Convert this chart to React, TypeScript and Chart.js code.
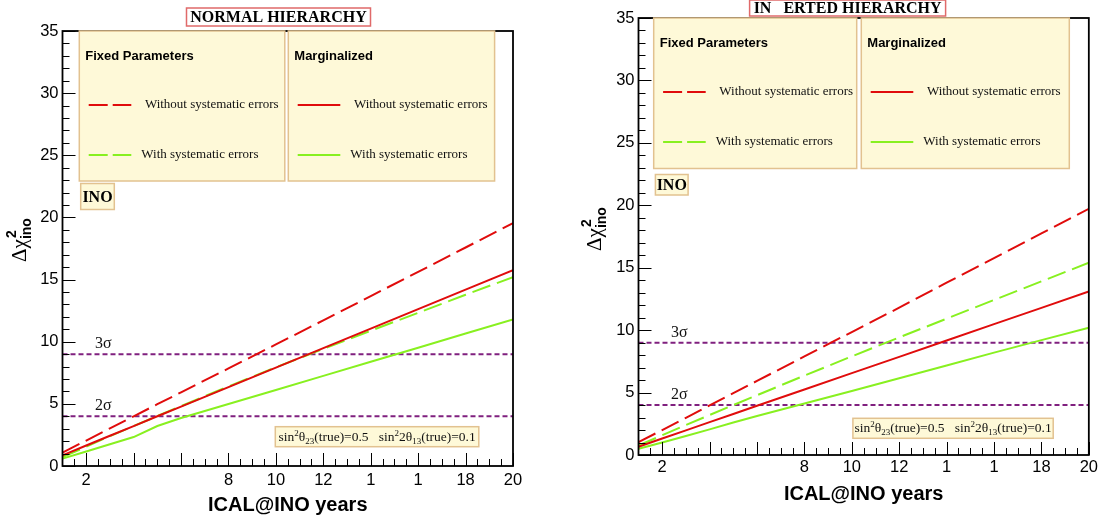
import React, { useEffect, useRef } from 'react';
import { Chart, registerables } from 'chart.js';

Chart.register(...registerables);

// ---------------- data ----------------
const YEARS = [1, 2, 3, 4, 5, 6, 8, 10, 12, 14, 16, 18, 20];

// Normal hierarchy
const NH_FIXED_NOSYS = [1.08, 2.05, 3.03, 4.0, 4.97, 5.93, 7.85, 9.78, 11.72, 13.67, 15.62, 17.58, 19.55];
const NH_FIXED_SYS = [0.72, 1.55, 2.4, 3.22, 4.02, 4.82, 6.4, 7.95, 9.42, 10.88, 12.33, 13.78, 15.2];
const NH_MARG_NOSYS = [0.86, 1.65, 2.43, 3.21, 4.0, 4.78, 6.35, 7.92, 9.48, 11.05, 12.62, 14.19, 15.76];
const NH_MARG_SYS = [0.59, 1.17, 1.75, 2.33, 3.22, 3.86, 4.99, 6.12, 7.25, 8.39, 9.52, 10.66, 11.79];

// Inverted hierarchy
const IH_FIXED_NOSYS = [1.03, 2.0, 2.98, 3.98, 4.95, 5.93, 7.9, 9.85, 11.8, 13.8, 15.77, 17.75, 19.72];
const IH_FIXED_SYS = [0.76, 1.58, 2.4, 3.2, 4.0, 4.79, 6.36, 7.9, 9.42, 10.92, 12.42, 13.91, 15.4];
const IH_MARG_NOSYS = [0.66, 1.32, 1.97, 2.63, 3.28, 3.94, 5.25, 6.56, 7.86, 9.17, 10.48, 11.78, 13.09];
const IH_MARG_SYS = [0.5, 1.0, 1.52, 2.05, 2.6, 3.12, 4.12, 5.13, 6.15, 7.17, 8.2, 9.2, 10.2];

const X_MIN = 1;
const X_MAX = 20;
const X_TICKS = [2, 4, 6, 8, 10, 12, 14, 16, 18, 20];
const X_TICK_LABELS = ['2', '', '', '8', '10', '12', '1', '1', '18', '20'];
const Y_MIN = 0;
const Y_MAX = 35;
const Y_STEP = 5;

const SIGMA_LEVELS = [9, 4];
const SIGMA_LABELS = ['3σ', '2σ'];

const TITLES = ['NORMAL HIERARCHY', 'IN   ERTED HIERARCHY'];
const X_TITLE = 'ICAL@INO years';
const BADGE = 'INO';
const LEGEND_HEADERS = ['Fixed Parameters', 'Marginalized'];
const LEGEND_ROWS = ['Without systematic errors', 'With systematic errors'];
const SERIES_NAMES = ['Marginalized, without systematic errors', 'Fixed parameters, without systematic errors', 'Fixed parameters, with systematic errors', 'Marginalized, with systematic errors'];

// ---------------- styles ----------------
const RED = '#e00c0c';
const GREEN = '#88f020';
const PURPLE = '#80207f';
const BOX_FILL = '#fef9d8';
const BOX_EDGE = '#e2c290';
const SANS = '"Liberation Sans", Arial, Helvetica, sans-serif';
const SERIF = '"Liberation Serif", "Times New Roman", serif';
const LONG_DASH = [19, 7];
const LEGEND_DASH = [19, 5];

const SERIES_STYLE = [
  { color: RED, dash: [] as number[] },
  { color: RED, dash: LONG_DASH },
  { color: GREEN, dash: LONG_DASH },
  { color: GREEN, dash: [] as number[] },
];

type Rect = [number, number, number, number];
interface Panel {
  key: string;
  title: string;
  series: number[][];
  width: number;
  offset: number;
  padding: { left: number; right: number; top: number; bottom: number };
  yWidth: number;
  xHeight: number;
  xLabelPad: number;
  titleBox: Rect;
  box1: Rect;
  box2: Rect;
  inoBox: Rect;
  paramBox: Rect;
  yTitle: [number, number];
}

const PANELS: Panel[] = [
  {
    key: 'nh',
    title: TITLES[0],
    series: [NH_MARG_NOSYS, NH_FIXED_NOSYS, NH_FIXED_SYS, NH_MARG_SYS],
    width: 550,
    offset: 0,
    padding: { left: 0, right: 37, top: 31, bottom: 0 },
    yWidth: 62.5,
    xHeight: 57,
    xLabelPad: 5,
    titleBox: [186.5, 8, 184, 18],
    box1: [79.3, 31, 205.5, 150],
    box2: [288.3, 31, 206.3, 150],
    inoBox: [80.7, 183.5, 33.6, 26],
    paramBox: [275.3, 426.7, 203.5, 20],
    yTitle: [26, 240],
  },
  {
    key: 'ih',
    title: TITLES[1],
    series: [IH_MARG_NOSYS, IH_FIXED_NOSYS, IH_FIXED_SYS, IH_MARG_SYS],
    width: 551,
    offset: 550,
    padding: { left: 0, right: 11, top: 18, bottom: 0 },
    yWidth: 88.5,
    xHeight: 68,
    xLabelPad: 3,
    titleBox: [199.6, 0, 196, 16],
    box1: [103.7, 18, 203, 150.5],
    box2: [311.3, 18, 208, 150.5],
    inoBox: [105.4, 174.5, 32.7, 20.5],
    paramBox: [302.9, 418.3, 200.3, 20],
    yTitle: [51, 229],
  },
];

type Seg = { t: string; font: string; dy: number };

function drawRich(ctx: CanvasRenderingContext2D, x: number, y: number, segs: Seg[]) {
  let cx = x;
  for (const s of segs) {
    ctx.font = s.font;
    ctx.fillText(s.t, cx, y + s.dy);
    cx += ctx.measureText(s.t).width;
  }
  return cx;
}

function richWidth(ctx: CanvasRenderingContext2D, segs: Seg[]) {
  let w = 0;
  for (const s of segs) {
    ctx.font = s.font;
    w += ctx.measureText(s.t).width;
  }
  return w;
}

function drawBox(ctx: CanvasRenderingContext2D, r: Rect, fill: string, edge: string) {
  ctx.fillStyle = fill;
  ctx.fillRect(r[0], r[1], r[2], r[3]);
  ctx.strokeStyle = edge;
  ctx.lineWidth = 1.5;
  ctx.setLineDash([]);
  ctx.strokeRect(r[0], r[1], r[2], r[3]);
}

function drawLegendBox(ctx: CanvasRenderingContext2D, r: Rect, header: string, styles: { color: string; dash: number[] }[]) {
  drawBox(ctx, r, BOX_FILL, BOX_EDGE);
  ctx.fillStyle = '#000';
  ctx.textBaseline = 'middle';
  ctx.textAlign = 'left';
  ctx.font = `bold 13px ${SANS}`;
  ctx.fillText(header, r[0] + 6, r[1] + 25);
  const rowsY = [r[1] + 74, r[1] + 124];
  const textX = [r[0] + 65.6, r[0] + 62];
  LEGEND_ROWS.forEach((label, i) => {
    const st = styles[i];
    ctx.strokeStyle = st.color;
    ctx.lineWidth = 2;
    ctx.setLineDash(st.dash.length ? LEGEND_DASH : []);
    ctx.beginPath();
    ctx.moveTo(r[0] + 9.4, rowsY[i]);
    ctx.lineTo(r[0] + 52, rowsY[i]);
    ctx.stroke();
    ctx.setLineDash([]);
    ctx.fillStyle = '#111';
    ctx.font = `13px ${SERIF}`;
    ctx.fillText(label, textX[i], rowsY[i]);
  });
}

function decorPlugin(p: Panel) {
  return {
    id: 'decor_' + p.key,
    afterDraw(chart: any) {
      const ctx: CanvasRenderingContext2D = chart.ctx;
      const { left, right, top, bottom } = chart.chartArea;
      const xs = chart.scales.x;
      const ys = chart.scales.y;
      ctx.save();
      ctx.setLineDash([]);

      // ticks (inside)
      ctx.strokeStyle = '#000';
      ctx.lineWidth = 1;
      for (let v = Y_MIN; v <= Y_MAX; v += 1) {
        const py = Math.round(ys.getPixelForValue(v)) + 0.5;
        const len = v % Y_STEP === 0 ? 13 : 7;
        ctx.beginPath();
        ctx.moveTo(left, py);
        ctx.lineTo(left + len, py);
        ctx.stroke();
      }
      for (let v = X_MIN + 0.5; v <= X_MAX; v += 0.5) {
        const px = Math.round(xs.getPixelForValue(v)) + 0.5;
        const len = v % 2 === 0 ? 13 : 7;
        ctx.beginPath();
        ctx.moveTo(px, bottom);
        ctx.lineTo(px, bottom - len);
        ctx.stroke();
      }

      // frame
      ctx.lineWidth = 1.8;
      ctx.strokeRect(left, top, right - left, bottom - top);

      // sigma labels
      ctx.fillStyle = '#111';
      ctx.font = `16px ${SERIF}`;
      ctx.textAlign = 'left';
      ctx.textBaseline = 'middle';
      SIGMA_LEVELS.forEach((lv, i) => {
        ctx.fillText(SIGMA_LABELS[i], left + 32.5, ys.getPixelForValue(lv) - 10);
      });

      // legend boxes
      drawLegendBox(ctx, p.box1, LEGEND_HEADERS[0], [SERIES_STYLE[1], SERIES_STYLE[2]]);
      drawLegendBox(ctx, p.box2, LEGEND_HEADERS[1], [SERIES_STYLE[0], SERIES_STYLE[3]]);

      // INO badge
      drawBox(ctx, p.inoBox, BOX_FILL, BOX_EDGE);
      ctx.fillStyle = '#000';
      ctx.font = `bold 16px ${SERIF}`;
      ctx.textAlign = 'center';
      ctx.textBaseline = 'middle';
      ctx.fillText(BADGE, p.inoBox[0] + p.inoBox[2] / 2, p.inoBox[1] + p.inoBox[3] / 2 + 1);

      // parameter box
      drawBox(ctx, p.paramBox, BOX_FILL, BOX_EDGE);
      ctx.fillStyle = '#111';
      ctx.textAlign = 'left';
      ctx.textBaseline = 'alphabetic';
      const big = `13.5px ${SERIF}`;
      const small = `9px ${SERIF}`;
      const segs: Seg[] = [
        { t: 'sin', font: big, dy: 0 },
        { t: '2', font: small, dy: -5 },
        { t: 'θ', font: big, dy: 0 },
        { t: '23', font: small, dy: 3 },
        { t: '(true)=0.5   sin', font: big, dy: 0 },
        { t: '2', font: small, dy: -5 },
        { t: '2θ', font: big, dy: 0 },
        { t: '13', font: small, dy: 3 },
        { t: '(true)=0.1', font: big, dy: 0 },
      ];
      const pw = richWidth(ctx, segs);
      drawRich(ctx, p.paramBox[0] + (p.paramBox[2] - pw) / 2, p.paramBox[1] + p.paramBox[3] / 2 + 4, segs);

      // title box
      drawBox(ctx, p.titleBox, '#ffffff', '#e06a6a');
      ctx.fillStyle = '#000';
      ctx.font = `bold 16px ${SERIF}`;
      ctx.textAlign = 'center';
      ctx.textBaseline = 'middle';
      ctx.fillText(p.title, p.titleBox[0] + p.titleBox[2] / 2, p.titleBox[1] + p.titleBox[3] / 2 + 1);

      // x title
      ctx.font = `bold 20px ${SANS}`;
      ctx.fillText(X_TITLE, (left + right) / 2, bottom + 39);

      // y title (rotated)
      ctx.save();
      ctx.translate(p.yTitle[0], p.yTitle[1]);
      ctx.rotate(-Math.PI / 2);
      ctx.textAlign = 'left';
      ctx.textBaseline = 'alphabetic';
      const mainFont = `21px ${SERIF}`;
      const subFont = `bold 14px ${SANS}`;
      ctx.font = mainFont;
      const wMain = ctx.measureText('Δχ').width;
      ctx.font = subFont;
      const wSub = ctx.measureText('ino').width;
      const x0 = -(wMain + wSub) / 2;
      ctx.font = mainFont;
      ctx.fillText('Δχ', x0, 0);
      ctx.font = subFont;
      ctx.fillText('2', x0 + wMain + 1, -10);
      ctx.fillText('ino', x0 + wMain, 5);
      ctx.restore();

      ctx.restore();
    },
  };
}

function makeChart(canvas: HTMLCanvasElement, p: Panel) {
  const datasets: any[] = p.series.map((arr, i) => ({
    label: SERIES_NAMES[i],
    data: YEARS.map((x, j) => ({ x, y: arr[j] })),
    borderColor: SERIES_STYLE[i].color,
    borderDash: SERIES_STYLE[i].dash,
    borderWidth: 2,
    pointRadius: 0,
    tension: 0,
    fill: false,
  }));
  SIGMA_LEVELS.forEach((lv, i) => {
    datasets.push({
      label: SIGMA_LABELS[i],
      data: [
        { x: X_MIN, y: lv },
        { x: X_MAX, y: lv },
      ],
      borderColor: PURPLE,
      borderDash: [5, 3],
      borderWidth: 2,
      pointRadius: 0,
      fill: false,
    });
  });

  return new Chart(canvas, {
    type: 'line',
    data: { datasets },
    options: {
      animation: false,
      responsive: false,
      devicePixelRatio: 1,
      layout: { padding: p.padding },
      plugins: {
        legend: { display: false },
        tooltip: { enabled: false },
        title: { display: false },
      },
      scales: {
        x: {
          type: 'linear',
          min: X_MIN,
          max: X_MAX,
          grid: { display: false, drawTicks: false },
          border: { display: false },
          afterBuildTicks: (s: any) => {
            s.ticks = X_TICKS.map((v) => ({ value: v }));
          },
          afterFit: (s: any) => {
            s.height = p.xHeight;
          },
          ticks: {
            autoSkip: false,
            maxRotation: 0,
            padding: p.xLabelPad,
            color: '#000',
            font: { family: SANS, size: 16.5 },
            callback: (_v: any, i: number) => X_TICK_LABELS[i] ?? '',
          },
        },
        y: {
          type: 'linear',
          min: Y_MIN,
          max: Y_MAX,
          grid: { display: false, drawTicks: false },
          border: { display: false },
          afterFit: (s: any) => {
            s.width = p.yWidth;
          },
          ticks: {
            stepSize: Y_STEP,
            padding: 4,
            color: '#000',
            font: { family: SANS, size: 16.5 },
          },
        },
      },
    } as any,
    plugins: [decorPlugin(p)],
  });
}

export default function App() {
  const leftRef = useRef<HTMLCanvasElement>(null);
  const rightRef = useRef<HTMLCanvasElement>(null);

  useEffect(() => {
    const canvases = [leftRef.current, rightRef.current];
    const charts = canvases.map((c, i) => makeChart(c as HTMLCanvasElement, PANELS[i]));
    return () => charts.forEach((ch) => ch.destroy());
  }, []);

  return (
    <div style={{ position: 'fixed', left: 0, top: 0, width: 1101, height: 523, background: '#fff' }}>
      <canvas
        ref={leftRef}
        width={PANELS[0].width}
        height={523}
        style={{ position: 'absolute', left: PANELS[0].offset, top: 0, width: PANELS[0].width, height: 523 }}
      />
      <canvas
        ref={rightRef}
        width={PANELS[1].width}
        height={523}
        style={{ position: 'absolute', left: PANELS[1].offset, top: 0, width: PANELS[1].width, height: 523 }}
      />
    </div>
  );
}
